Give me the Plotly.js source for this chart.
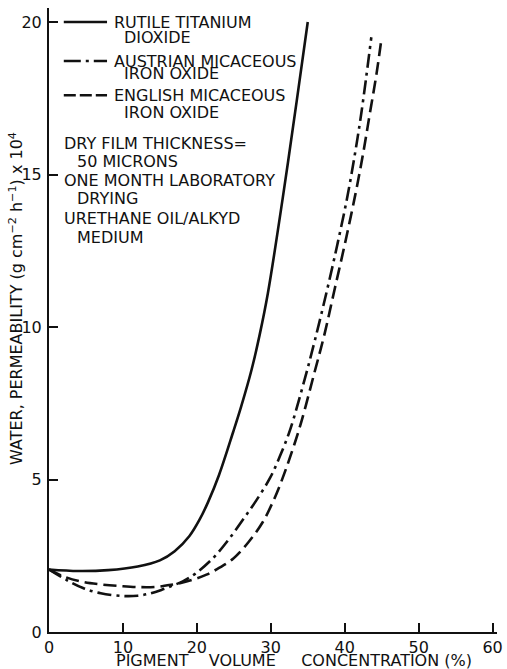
<!DOCTYPE html>
<html>
<head>
<meta charset="utf-8">
<script src="https://cdn.plot.ly/plotly-3.0.1.min.js"></script>
<style>
html,body{margin:0;padding:0;background:#fff;}
#chart{width:507px;height:669px;}
</style>
</head>
<body>
<div id="chart"></div>
<script>
// Pigment volume concentration (%) and water permeability (g cm^-2 h^-1 x 10^4)
const rutileX = [0, 4, 8, 12, 15, 17, 19, 20.4, 21.5, 23, 24.9, 26, 27.4, 28.5, 29.6, 31.6, 33.5, 35.0];
const rutileY = [2.05, 2.0, 2.03, 2.15, 2.35, 2.65, 3.15, 3.7, 4.25, 5.15, 6.55, 7.4, 8.6, 9.75, 11.1, 14.2, 17.4, 20.0];

const austrianX = [0, 2.4, 4.6, 7, 10, 12, 13.6, 15.2, 16.8, 18.1, 20, 22.3, 24.2, 26.2, 28, 29.9, 31.3, 32.6, 34.6, 36, 37.6, 39, 40.3, 41.4, 42.3, 43.6];
const austrianY = [2.05, 1.7, 1.44, 1.27, 1.18, 1.19, 1.26, 1.38, 1.53, 1.66, 1.95, 2.45, 3.0, 3.67, 4.3, 5.05, 5.8, 6.62, 8.3, 9.6, 11.2, 12.7, 14.2, 15.7, 17.1, 19.5];

const englishX = [0, 2, 4.6, 7, 10, 12.5, 14.6, 16, 17.7, 19.5, 21.3, 23, 24.9, 27, 28.9, 30.2, 31.5, 33.8, 35.9, 37.3, 38.6, 40, 41.4, 42.5, 43.4, 44.3, 45.0];
const englishY = [2.05, 1.82, 1.64, 1.56, 1.5, 1.47, 1.48, 1.53, 1.6, 1.72, 1.88, 2.1, 2.4, 2.95, 3.6, 4.22, 4.98, 6.62, 8.5, 9.8, 11.2, 12.7, 14.3, 15.7, 17.0, 18.3, 19.5];

const seriesNames = ["RUTILE TITANIUM", "AUSTRIAN MICACEOUS", "ENGLISH MICACEOUS"];
const seriesSecond = ["DIOXIDE", "IRON OXIDE", "IRON OXIDE"];
const noteLines = ["DRY FILM THICKNESS=", "50 MICRONS", "ONE MONTH LABORATORY", "DRYING", "URETHANE OIL/ALKYD", "MEDIUM"];

const xTicks = [0, 10, 20, 30, 40, 50, 60];
const yTicks = [0, 5, 10, 15, 20];

const FONT = "DejaVu Sans, Liberation Sans, sans-serif";
const INK = "#111";

const styles = ["solid", "14px,5px,3px,5px", "13px,6px"];
const keyStyles = ["solid", "17px,5px,3px,5px", "12px,4px"];

function curve(xs, ys, dash) {
  return {x: xs, y: ys, mode: "lines", showlegend: false, hoverinfo: "skip",
    line: {color: INK, width: 2.6, shape: "spline", smoothing: 1, dash: dash}};
}
const traces = [
  curve(rutileX, rutileY, styles[0]),
  curve(austrianX, austrianY, styles[1]),
  curve(englishX, englishY, styles[2])
];

// Legend key positions (data coordinates)
const keyY = [20.0, 18.72, 17.6];
const secondY = [19.48, 18.3, 17.05];
const shapes = [];
const annotations = [];
for (let i = 0; i < 3; i++) {
  shapes.push({type: "line", xref: "x", yref: "y", x0: 2.0, x1: 7.85, y0: keyY[i], y1: keyY[i],
    line: {color: INK, width: 2.6, dash: keyStyles[i]}});
  annotations.push({xref: "x", yref: "y", x: 8.5, y: keyY[i], xanchor: "left", yanchor: "middle",
    text: seriesNames[i], showarrow: false, font: {family: FONT, size: 16, color: INK}});
  annotations.push({xref: "x", yref: "y", x: 9.9, y: secondY[i], xanchor: "left", yanchor: "middle",
    text: seriesSecond[i], showarrow: false, font: {family: FONT, size: 16, color: INK}});
}
const noteX = [1.75, 3.5, 1.75, 3.5, 1.75, 3.5];
const noteY = [16.03, 15.44, 14.79, 14.2, 13.57, 12.95];
for (let i = 0; i < noteLines.length; i++) {
  annotations.push({xref: "x", yref: "y", x: noteX[i], y: noteY[i], xanchor: "left", yanchor: "middle",
    text: noteLines[i], showarrow: false, font: {family: FONT, size: 16, color: INK}});
}
// Axis titles
annotations.push({xref: "x", yref: "paper", x: 33.2, y: -0.0455, xanchor: "center", yanchor: "middle",
  text: "PIGMENT    VOLUME     CONCENTRATION (%)", showarrow: false, borderpad: 0,
  font: {family: FONT, size: 16, color: INK}});
annotations.push({xref: "paper", yref: "paper", x: -0.074, y: 0.535, xanchor: "center", yanchor: "middle", textangle: -90,
  text: "WATER, PERMEABILITY (g cm<sup>−2</sup> h<sup>−1</sup>) x 10<sup>4</sup>", showarrow: false,
  font: {family: FONT, size: 16, color: INK}});

const layout = {
  width: 507, height: 669,
  margin: {l: 49, r: 10, t: 8, b: 37},
  paper_bgcolor: "#fff", plot_bgcolor: "#fff",
  font: {family: FONT, color: INK, size: 16},
  xaxis: {range: [0, 60.6], tickvals: xTicks, ticktext: xTicks.map(String), ticks: "inside", ticklen: 9, tickwidth: 2,
    tickcolor: INK, showline: true, linewidth: 2, linecolor: INK, showgrid: false, zeroline: false,
    tickfont: {family: FONT, size: 16, color: INK}, fixedrange: true},
  yaxis: {range: [0, 20.46], tickvals: yTicks, ticktext: yTicks.map(String), ticks: "inside", ticklen: 9, tickwidth: 2,
    tickcolor: INK, showline: true, linewidth: 2, linecolor: INK, showgrid: false, zeroline: false,
    ticklabelstandoff: 2,
    tickfont: {family: FONT, size: 16, color: INK}, fixedrange: true},
  shapes: shapes,
  annotations: annotations,
  showlegend: false
};

Plotly.newPlot("chart", traces, layout, {staticPlot: true, displayModeBar: false});
</script>
</body>
</html>
